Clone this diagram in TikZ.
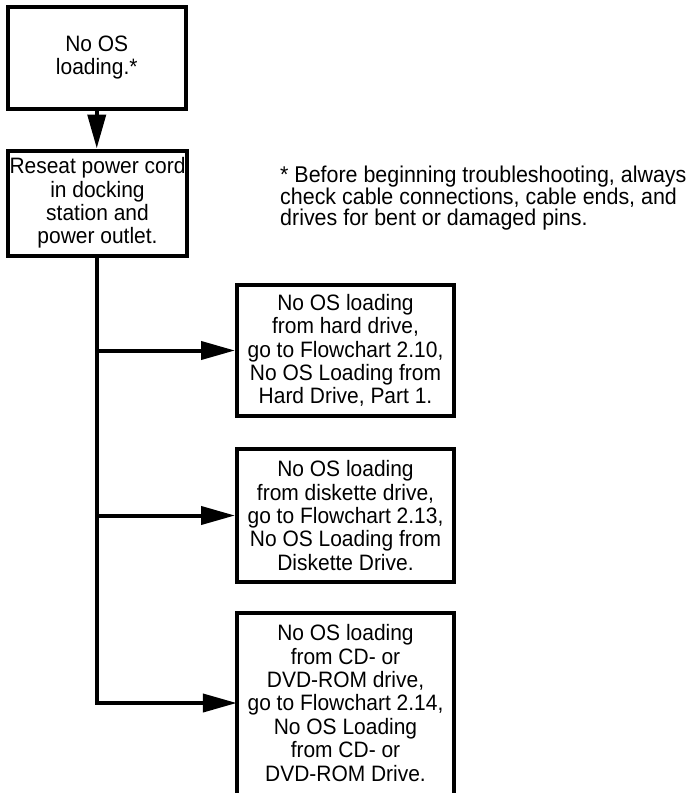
\documentclass[tikz,border=0pt]{standalone}
\usepackage{fontspec}
\setmainfont{Liberation Sans}[FakeStretch=0.94]
\usetikzlibrary{arrows.meta}
\begin{document}
\begin{tikzpicture}[x=1pt,y=-1pt,
  boxtxt/.style={align=center, inner sep=0pt, font=\fontsize{22.3}{23.4}\selectfont},
  box/.style={boxtxt, draw, line width=4pt},
  conn/.style={line width=4pt},
  arr/.style={conn, -{Triangle[length=34pt,width=18pt]}}]
\useasboundingbox (0,0) rectangle (691,793);
\node[box, minimum width=177.5pt, minimum height=102pt] (b1) at (96.75,57.5) {No OS\\loading.*};
\node[box, minimum width=178.5pt, minimum height=105pt] (b2) at (97.5,203) {Reseat power cord\\in docking\\station and\\power outlet.};
\node[box, minimum width=217pt, minimum height=131pt] (b3) at (345.5,350.5) {No OS loading\\from hard drive,\\go to Flowchart 2.10,\\No OS Loading from\\Hard Drive, Part 1.};
\node[box, minimum width=217pt, minimum height=133pt] (b4) at (345.5,515.5) {No OS loading\\from diskette drive,\\go to Flowchart 2.13,\\No OS Loading from\\Diskette Drive.};
\node[boxtxt, minimum width=217pt, minimum height=180pt] (b5) at (345.5,703) {No OS loading\\from CD- or\\DVD-ROM drive,\\go to Flowchart 2.14,\\No OS Loading\\from CD- or\\DVD-ROM Drive.};
\draw[conn] (b5.south west) -- (b5.north west) -- (b5.north east) -- (b5.south east);
\node[anchor=north west, align=left, inner sep=0pt, font=\fontsize{22.8}{21}\selectfont] (note) at (280,166) {* Before beginning troubleshooting, always\\check cable connections, cable ends, and\\drives for bent or damaged pins.};
\draw[arr] (b1.south -| 96.75,0) -- (96.75,0 |- b2.north);
\coordinate (trunk) at (96.75,0 |- b2.south);
\draw[arr] (trunk) |- (b5.west);
\draw[arr] (trunk |- b3.west) -- (b3.west);
\draw[arr] (trunk |- b4.west) -- (b4.west);
\end{tikzpicture}
\end{document}
